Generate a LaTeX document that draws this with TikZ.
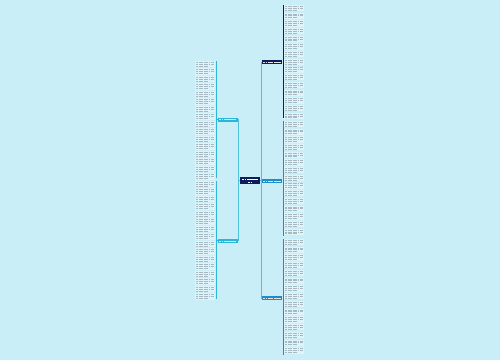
\documentclass[tikz,border=0pt]{standalone}
\definecolor{bgc}{RGB}{201,238,248}
\definecolor{navy}{RGB}{14,28,94}
\definecolor{cyann}{RGB}{41,182,216}
\definecolor{bluen}{RGB}{29,140,200}
\definecolor{conn}{RGB}{80,192,220}
\definecolor{leaffill}{RGB}{222,244,250}
\definecolor{leaftext}{RGB}{168,184,192}
\tikzset{
  mapnode/.style={draw=none, inner sep=0pt, minimum width=20pt, minimum height=3.6pt},
  link/.style={draw=conn, line width=0.8pt},
  txt/.style={line width=0.55pt, dash pattern=on 2.2pt off 0.5pt on 1.4pt off 0.5pt on 3pt off 0.5pt on 1.8pt off 0.5pt},
}
\newcommand\leafblock[3]{% x-left, y-center, bracket x
  \fill[leaffill] (#1,#2-3.1) rectangle ++(20,6.2);
  \draw[txt,leaftext] (#1+0.8,#2-1.9) -- ++(18.4,0);
  \draw[txt,leaftext] (#1+0.8,#2) -- ++(18.4,0);
  \draw[txt,leaftext] (#1+0.8,#2+1.9) -- ++(13,0);
}
\begin{document}
\begin{tikzpicture}[x=1pt,y=-1pt]
\fill[bgc] (0,0) rectangle (500,360);
\useasboundingbox (0,0) rectangle (500,360);

% main nodes
\node[mapnode, fill=navy, minimum height=6.5pt] (C) at (250,180.5) {};
\node[mapnode, fill=cyann, minimum width=19.5pt] (L1) at (228,119.7) {};
\node[mapnode, fill=cyann, minimum width=19.5pt] (L2) at (228,240.8) {};
\node[mapnode, fill=navy] (R1) at (272.3,62.2) {};
\node[mapnode, fill=bluen] (R2) at (272.3,181) {};
\node[mapnode, fill=bluen] (R3) at (272.3,298.2) {};

% text strokes in nodes
\draw[txt,white,line width=0.5pt] (242,179.2) -- (258,179.2);
\draw[txt,white,line width=0.5pt] (248,182) -- (252,182);
\foreach \n in {L1,L2,R1,R2,R3}{
  \draw[txt,white!80!gray,line width=0.5pt] ([xshift=1pt]\n.west) -- ([xshift=-2pt]\n.east);
}

% connectors from center
\draw[link] (C.west) -- ++(-1.6,0) |- (L1.east);
\draw[link] (C.west) -- ++(-1.6,0) |- (L2.east);
\draw[link] (C.east) -- ++(1.2,0) |- (R1.west);
\draw[link] (C.east) -- ++(1.2,0) |- (R2.west);
\draw[link] (C.east) -- ++(1.2,0) |- (R3.west);

% left leaves
\foreach \i in {0,...,15}{
  \pgfmathsetmacro\yy{64+\i*7.5}
  \leafblock{195}{\yy}{216.5}
}
\foreach \i in {0,...,15}{
  \pgfmathsetmacro\yy{184+\i*7.5}
  \leafblock{195}{\yy}{216.5}
}
\coordinate (l1t) at (216.6,61);
\coordinate (l1b) at (216.6,178);
\coordinate (l2t) at (216.6,181);
\coordinate (l2b) at (216.6,299);
\draw[link, draw=cyann] (L1.west) -- (L1.west -| l1t);
\draw[link, draw=cyann] (l1t) -- (l1b);
\draw[link, draw=cyann] (L2.west) -- (L2.west -| l2t);
\draw[link, draw=cyann] (l2t) -- (l2b);

% right leaves
\foreach \i in {0,...,14}{
  \pgfmathsetmacro\yy{8+\i*7.7}
  \leafblock{284}{\yy}{282.7}
}
\foreach \i in {0,...,14}{
  \pgfmathsetmacro\yy{124+\i*7.7}
  \leafblock{284}{\yy}{282.7}
}
\foreach \i in {0,...,14}{
  \pgfmathsetmacro\yy{242+\i*7.75}
  \leafblock{284}{\yy}{282.7}
}
\coordinate (r1t) at (282.9,5);
\coordinate (r1b) at (282.9,118);
\coordinate (r2t) at (282.9,121);
\coordinate (r2b) at (282.9,236);
\coordinate (r3t) at (282.9,239);
\coordinate (r3b) at (282.9,355);
\draw[line width=0.8pt, navy] (R1.east) -- (R1.east -| r1t);
\draw[line width=0.8pt, navy] (r1t) -- (r1b);
\draw[line width=0.8pt, bluen] (R2.east) -- (R2.east -| r2t);
\draw[line width=0.8pt, bluen] (r2t) -- (r2b);
\draw[line width=0.8pt, bluen] (R3.east) -- (R3.east -| r3t);
\draw[line width=0.8pt, bluen] (r3t) -- (r3b);
\end{tikzpicture}
\end{document}
